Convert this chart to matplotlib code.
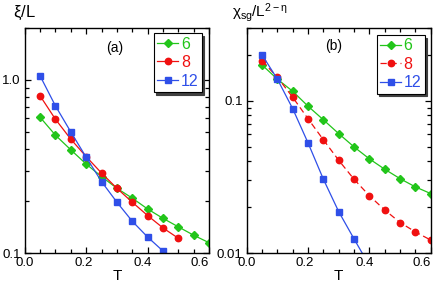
"""
Two panels: xi/L and chi_sg/L^(2-eta) versus T for sizes L = 6, 8, 12
"""

import matplotlib
matplotlib.use("Agg")
import matplotlib.pyplot as plt
import matplotlib.transforms as mtransforms
from matplotlib.ticker import FixedLocator, MultipleLocator, LogLocator, NullFormatter

plt.rcParams['font.family'] = ['Liberation Sans', 'DejaVu Sans']
plt.rcParams['mathtext.fontset'] = 'custom'
plt.rcParams['mathtext.rm'] = 'Liberation Sans'
plt.rcParams['mathtext.it'] = 'Liberation Sans'

###############################################################################
# Data
#
sizes = ["6", "8", "12"]
temps = [0.05, 0.10, 0.15, 0.20, 0.25, 0.30, 0.35, 0.40, 0.45, 0.50, 0.55, 0.60]

# panel (a) xi/L
xi_6 = [0.609, 0.480, 0.395, 0.327, 0.277, 0.237, 0.208, 0.180, 0.159, 0.142, 0.127, 0.115]
xi_8 = [0.809, 0.593, 0.455, 0.361, 0.290, 0.237, 0.197, 0.165, 0.140, 0.122]
xi_12 = [1.055, 0.708, 0.501, 0.358, 0.259, 0.197, 0.153, 0.124, 0.103]

# panel (b) chi_sg / L^(2-eta)
chi_6 = [0.171, 0.138, 0.115, 0.0918, 0.0748, 0.0607, 0.0497, 0.0415, 0.0355, 0.0308, 0.0272, 0.0246]
chi_8 = [0.182, 0.142, 0.105, 0.0759, 0.0553, 0.0406, 0.0305, 0.0238, 0.0192, 0.0159, 0.0138, 0.0122]
chi_12 = [0.199, 0.138, 0.0883, 0.0527, 0.0305, 0.0187, 0.0124, 0.0083]

x_tick_labels = ["0.0", "0.2", "0.4", "0.6"]

colors = ["#22c51a", "#f01010", "#2f4fe8"]
markers = ["D", "o", "s"]
marker_sizes = [4.0, 4.6, 4.6]

###############################################################################
# Figure
#
figure = plt.figure(figsize=(4.36, 2.83), dpi=100)
axe_a = figure.add_axes([0.0567, 0.105, 0.423, 0.797])
axe_b = figure.add_axes([0.566, 0.105, 0.422, 0.797])

# the original tick labels drift slightly to the left along x (pixels)
label_shifts = [0, -3, -5, -9]


def style_axe(axe, ylim, yticks, ylabels):
    axe.set_yscale("log")
    axe.set_xlim(0.0, 0.6)
    axe.set_ylim(*ylim)
    axe.xaxis.set_major_locator(FixedLocator([0.0, 0.2, 0.4, 0.6]))
    axe.xaxis.set_minor_locator(MultipleLocator(0.05))
    axe.set_xticklabels(x_tick_labels)
    axe.yaxis.set_major_locator(FixedLocator(yticks))
    axe.yaxis.set_minor_locator(LogLocator(base=10, subs=range(2, 10)))
    axe.yaxis.set_minor_formatter(NullFormatter())
    axe.set_yticklabels(ylabels)
    axe.tick_params(which="both", direction="in", top=True, right=True,
                    labelsize=9.5, width=0.9, pad=3)
    axe.tick_params(which="major", length=4)
    axe.tick_params(which="minor", length=3)
    for spine in axe.spines.values():
        spine.set_linewidth(1.0)
    axe.set_xlabel("T", fontsize=11, labelpad=0)
    for label, shift in zip(axe.get_xticklabels(), label_shifts):
        offset = mtransforms.ScaledTranslation(shift / 100, 0, figure.dpi_scale_trans)
        label.set_transform(label.get_transform() + offset)


# panel (a)
for values, size, color, marker, ms in zip([xi_6, xi_8, xi_12], sizes, colors, markers, marker_sizes):
    axe_a.plot(temps[:len(values)], values, color=color, marker=marker, markersize=ms,
               linewidth=0.9, label=size)
style_axe(axe_a, (0.1, 2.0), [0.1, 1.0], ["0.1", "1.0"])
axe_a.text(0.49, 0.91, "(a)", transform=axe_a.transAxes, ha="center", va="center", fontsize=10)

# panel (b)
line_styles = ["-", (0, (5, 3)), "-"]
for values, size, color, marker, ms, ls in zip([chi_6, chi_8, chi_12], sizes, colors, markers, marker_sizes, line_styles):
    axe_b.plot(temps[:len(values)], values, color=color, marker=marker, markersize=ms,
               linewidth=0.9, linestyle=ls, label=size)
style_axe(axe_b, (0.01, 0.3), [0.01, 0.1], ["0.01", "0.1"])
axe_b.text(0.47, 0.92, "(b)", transform=axe_b.transAxes, ha="center", va="center", fontsize=10)

for axe, anchor in [(axe_a, (0.959, 0.975)), (axe_b, (0.966, 0.967))]:
    legend = axe.legend(loc="upper right", bbox_to_anchor=anchor, fontsize=11.5,
                        handlelength=1.35, handletextpad=0.15, borderpad=0.2,
                        labelspacing=0.22, borderaxespad=0.0, fancybox=False,
                        shadow={"color": "0.25", "alpha": 1.0}, framealpha=1.0,
                        edgecolor="black")
    legend.get_frame().set_linewidth(0.8)
    for text, color in zip(legend.get_texts(), colors):
        text.set_color(color)

# y labels at the top-left of each panel
figure.text(0.03, 0.955, r"$\xi$/L", fontsize=12, ha="left", va="center")
figure.text(0.533, 0.955, r"$\chi_{\rm sg}$/L$^{2-\eta}$", fontsize=11, ha="left", va="center")

figure.savefig("out.png", dpi=100)
